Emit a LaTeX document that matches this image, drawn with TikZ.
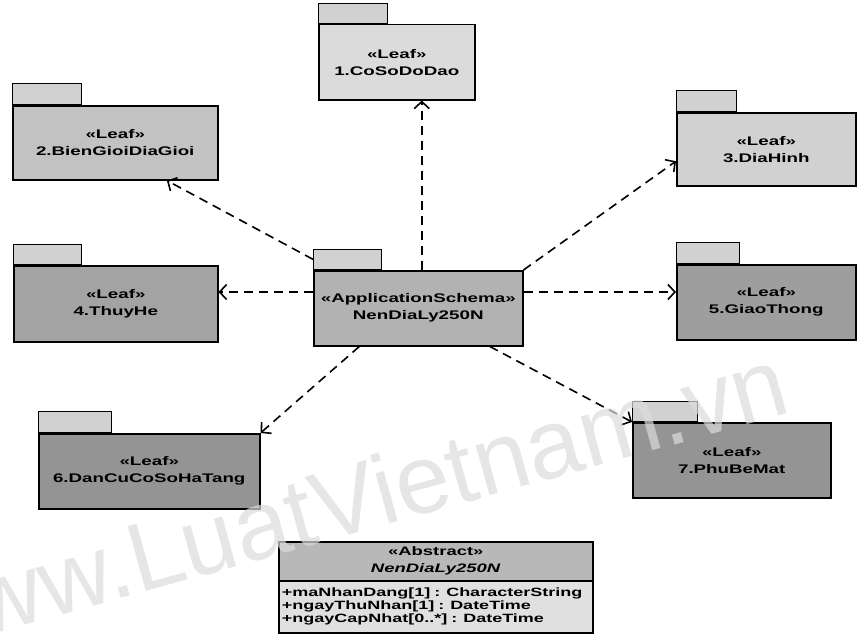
\documentclass[tikz,border=0pt]{standalone}
\usepackage{fontspec}
\usetikzlibrary{arrows.meta,calc}
\newfontfamily\pkgfont{Liberation Sans}[FakeStretch=1.5]
\newfontfamily\markfont{Liberation Sans}

\begin{document}
\begin{tikzpicture}[x=1pt,y=-1pt,
  pkgtab/.style={draw, line width=1.3pt, inner sep=0pt, anchor=south west, fill=black!18},
  pkgbody/.style={draw, line width=1.5pt, inner sep=0pt, anchor=north west, align=center,
    minimum height=75, font=\pkgfont\bfseries\fontsize{12.5}{17}\selectfont},
  classhead/.style={draw, line width=1.5pt, inner sep=0pt, anchor=north west, align=center,
    fill=black!28, font=\pkgfont\bfseries\fontsize{12.3}{17}\selectfont},
  classattr/.style={draw, line width=1.5pt, inner xsep=3pt, inner ysep=0pt, anchor=north west,
    align=left, fill=black!12, font=\pkgfont\bfseries\fontsize{12}{13}\selectfont},
  dep/.style={dash pattern=on 9pt off 6pt, line width=1.6pt,
    -{Straight Barb[length=7pt,width=15pt]}},
]
\useasboundingbox (0,0) rectangle (857,634);

% packages: tab on top, body below
\node[pkgtab, minimum width=69, minimum height=20] (t1) at (318,24) {};
\node[pkgbody, fill=black!14, minimum width=156] (b1) at (318,24) {«Leaf»\\1.CoSoDoDao};

\node[pkgtab, minimum width=69, minimum height=21] (t2) at (12,105) {};
\node[pkgbody, fill=black!24, minimum width=205, minimum height=74] (b2) at (12,105) {«Leaf»\\2.BienGioiDiaGioi};

\node[pkgtab, minimum width=60, minimum height=21] (t3) at (676,112) {};
\node[pkgbody, fill=black!18, minimum width=179, minimum height=73] (b3) at (676,112) {«Leaf»\\3.DiaHinh};

\node[pkgtab, minimum width=68, minimum height=20] (t4) at (13,265) {};
\node[pkgbody, fill=black!36, minimum width=204, minimum height=76] (b4) at (13,265) {«Leaf»\\4.ThuyHe};

\node[pkgtab, minimum width=68, minimum height=20] (ct) at (313,270) {};
\node[pkgbody, fill=black!30, minimum width=209] (cb) at (313,270) {«ApplicationSchema»\\NenDiaLy250N};

\node[pkgtab, minimum width=63, minimum height=21] (t5) at (676,264) {};
\node[pkgbody, fill=black!38, minimum width=179] (b5) at (676,264) {«Leaf»\\5.GiaoThong};

\node[pkgtab, minimum width=73, minimum height=21] (t6) at (38,433) {};
\node[pkgbody, fill=black!42, minimum width=221] (b6) at (38,433) {«Leaf»\\6.DanCuCoSoHaTang};

\node[pkgtab, minimum width=65, minimum height=20] (t7) at (632,422) {};
\node[pkgbody, fill=black!42, minimum width=198] (b7) at (632,422) {«Leaf»\\7.PhuBeMat};

% abstract class: name compartment and attribute compartment
\node[classhead, minimum width=314, minimum height=39] (ch) at (278,541) {«Abstract»\\\textit{NenDiaLy250N}};
\node[classattr, minimum width=314, minimum height=52, text width=308] (ca) at (278,580)
  {+maNhanDang[1] : CharacterString\\+ngayThuNhan[1] : DateTime\\+ngayCapNhat[0..*] : DateTime};

% dependencies from the application schema
\coordinate (row) at (0,292);
\draw[dep] ([xshift=3.5pt]cb.north) -- ([xshift=3.5pt]cb.north |- b1.south);
\draw[dep] (ct.west) -- ($(b2.south west)!0.75!(b2.south east)$);
\draw[dep] (cb.north east) -- ($(b3.north west)!0.66!(b3.south west)$);
\draw[dep] (cb.west |- row) -- (b4.east |- row);
\draw[dep] (cb.east |- row) -- (b5.west |- row);
\draw[dep] ($(cb.south west)!0.22!(cb.south east)$) -- (b6.north east);
\draw[dep] ($(cb.south west)!0.84!(cb.south east)$) -- (b7.north west);

% site mark across the lower half
\node[text=black!14, opacity=0.7, font=\markfont\fontsize{98}{98}\selectfont,
  rotate=15.5, anchor=base east, inner sep=0pt] (mark) at (793,412) {www.LuatVietnam.vn};
\end{tikzpicture}
\end{document}
